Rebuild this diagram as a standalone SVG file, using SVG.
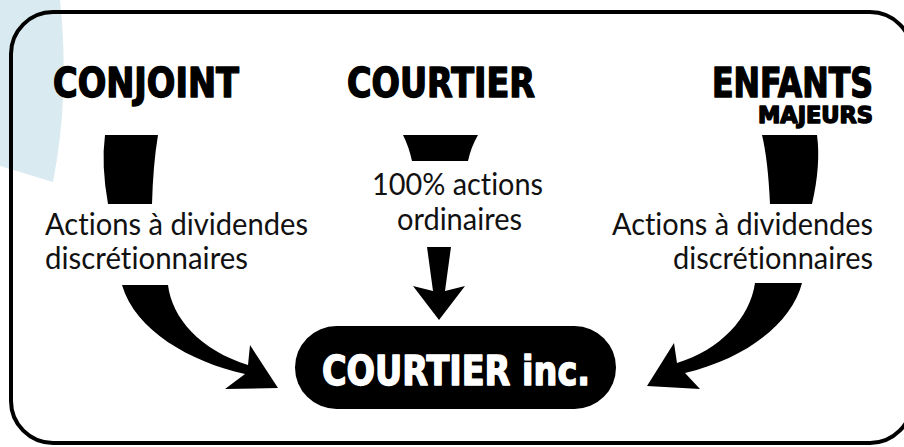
<svg xmlns="http://www.w3.org/2000/svg" width="904" height="447" viewBox="0 0 904 447">
<style>
.head{font-family:"DejaVu Sans",sans-serif;font-weight:bold;font-stretch:condensed;fill:#000;stroke:#000;stroke-width:1.4px;stroke-linejoin:round}
.inv{fill:#fff;stroke:#fff}
.lbl{font-family:Lato,"Liberation Sans",sans-serif;font-size:30px;fill:#111;font-variant-ligatures:none}
.conn{fill:#000;stroke:none}
</style>
<rect width="904" height="447" fill="#fff"/>
<path d="M0,0 L60,0 Q70,95 53,182 L0,166 Z" fill="#d9eaf0"/>
<rect x="11" y="12" width="901" height="431" rx="42" ry="42" fill="none" stroke="#000" stroke-width="4"/>
<g id="conjoint">
<text class="head" x="53" y="97" font-size="41" textLength="186" lengthAdjust="spacingAndGlyphs">CONJOINT</text>
</g>
<g id="courtier">
<text class="head" x="347" y="97" font-size="41" textLength="188" lengthAdjust="spacingAndGlyphs">COURTIER</text>
</g>
<g id="enfants">
<text class="head" x="712" y="97" font-size="41" textLength="161" lengthAdjust="spacingAndGlyphs">ENFANTS</text>
<text class="head" x="758" y="123" font-size="23" textLength="115" lengthAdjust="spacingAndGlyphs">MAJEURS</text>
</g>
<g id="courtier-inc">
<rect x="295" y="326" width="321" height="83" rx="41.5" ry="41.5" fill="#000"/>
<text class="head inv" x="322" y="385" font-size="41" textLength="268" lengthAdjust="spacingAndGlyphs">COURTIER inc.</text>
</g>
<g id="connectors">
<path class="conn" d="M105,135 L158,135 Q153,165 152,204 L108,204 Q101,165 105,135 Z"/>
<path class="conn" d="M122,285 L168,285 C172,318 200,350 248,365 L250,345 L278,388 L225,389 L245,374 C190,362 135,330 122,285 Z"/>
<path class="conn" d="M403,135 L478,135 Q471,147 468,161 L412,161 Q409,147 403,135 Z"/>
<path class="conn" d="M427,247 L451,247 L445,291 L465,286 L439,320 L413,286 L433,291 Z"/>
<path class="conn" d="M762,135 L817,135 Q821,165 812,204 L770,204 Q768,160 762,135 Z"/>
<path class="conn" d="M755,283 L802,283 C792,322 748,358 685,373 L700,389 L647,386 L674,343 L677,363 C720,350 750,318 755,283 Z"/>
</g>
<g id="labels">
<text class="lbl" x="45" y="235" textLength="263" lengthAdjust="spacingAndGlyphs">Actions à dividendes</text>
<text class="lbl" x="45" y="269" textLength="203" lengthAdjust="spacingAndGlyphs">discrétionnaires</text>
<text class="lbl" x="372" y="195" textLength="171" lengthAdjust="spacingAndGlyphs">100% actions</text>
<text class="lbl" x="397" y="230" textLength="125" lengthAdjust="spacingAndGlyphs">ordinaires</text>
<text class="lbl" x="612" y="235" textLength="261" lengthAdjust="spacingAndGlyphs">Actions à dividendes</text>
<text class="lbl" x="673" y="269" textLength="200" lengthAdjust="spacingAndGlyphs">discrétionnaires</text>
</g>
</svg>
